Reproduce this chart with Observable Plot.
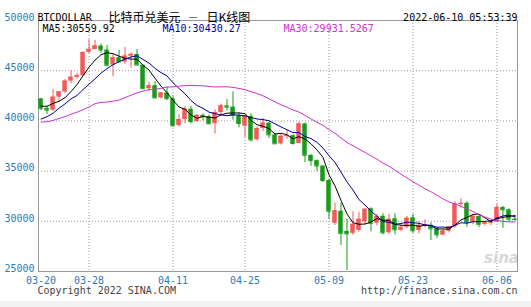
<!DOCTYPE html>
<html><head><meta charset="utf-8">
<script src="https://cdn.jsdelivr.net/npm/d3@7"></script>
<script src="https://cdn.jsdelivr.net/npm/@observablehq/plot@0.6"></script>
<style>body{margin:0;background:#fff}</style>
</head><body><div id="chart"></div>
<script>
const dates = ["03-20","03-21","03-22","03-23","03-24","03-25","03-26","03-27","03-28","03-29","03-30","03-31",
"04-01","04-02","04-03","04-04","04-05","04-06","04-07","04-08","04-09","04-10","04-11","04-12","04-13","04-14","04-15","04-16","04-17","04-18","04-19","04-20","04-21","04-22",
"04-25","04-26","04-27","04-28","04-29","04-30",
"05-01","05-02","05-03","05-04","05-05","05-06","05-07","05-08","05-09","05-10","05-11","05-12","05-13","05-14","05-15","05-16","05-17","05-18","05-19","05-20","05-21","05-22","05-23","05-24","05-25","05-26","05-27","05-28","05-29","05-30","05-31",
"06-01","06-02","06-03","06-04","06-05","06-06","06-07","06-08","06-09"];

const open = [42191,41246,41074,42364,42887,43965,44350,44505,46822,47100,47457,47062,
45554,46286,45859,46445,46625,45544,43208,43505,42282,42781,42201,39534,40124,41160,39939,40552,40418,39721,40828,41501,41372,40526,
39473,40448,38120,39241,39769,38606,
37713,38472,38528,37748,39696,36573,36043,35503,34060,29800,31000,29000,28800,29100,29950,31250,29800,30500,28850,30250,29100,29400,30350,29080,29550,29600,29250,28620,29020,29440,31720,
31790,29900,30470,29710,29835,29910,31370,31150,30215];

const high = [42241,41454,43125,42894,44132,44999,44735,46828,48087,48022,47655,47512,
46616,47028,47313,46791,47106,45544,43861,43903,42787,43376,42425,40618,41430,41451,40618,40709,40571,41116,41673,42126,42894,40778,
40492,40714,39398,40269,39887,38771,
38628,39075,38629,39903,39789,36624,36130,35503,34222,31800,31800,30200,30950,30900,31300,31350,30700,30750,30700,30750,29600,30500,30700,29950,30150,29850,29350,29210,29500,31950,32250,
31960,30700,30630,29930,30120,31690,31490,31250,30610];

const low = [41005,40668,40948,41878,42726,43706,44166,44437,46690,47100,46746,45391,
44403,45783,45634,45236,45545,43194,42900,42183,42183,42021,39373,39388,39713,39696,39867,39992,39621,38696,40619,40961,40064,39315,
38338,37885,37997,38941,38236,37698,
37586,38157,37586,37732,35857,35482,34941,33879,30200,29600,27600,25100,28600,28900,29600,28950,29550,28650,28700,28650,29000,29250,28800,28750,29350,28100,28300,28570,28840,29300,31290,
29400,29650,29380,29500,29575,29890,29310,29940,30020];

const close = [41248,41077,42359,42893,43961,44349,44501,46820,47128,47466,47063,45539,
46282,45869,46454,46623,45556,43207,43504,42288,42782,42208,39522,40127,41167,39936,40553,40424,39717,40826,41503,41374,40527,39740,
40458,38117,39241,39774,38610,37715,
38469,38529,37750,39698,36575,36041,35502,34059,31000,31050,28800,28750,29700,30200,31200,29800,30450,28850,30200,29150,29400,30300,29050,29600,29650,29250,28650,29030,29470,31730,31790,
29900,30500,29700,29830,29905,31370,31150,30210,30185];

// closes of the 29 sessions before the first candle (needed for the moving averages)
const priorCloses = [40122,38431,37075,38286,37296,38332,39214,39105,37709,43193,
44354,43925,42451,39137,39400,38420,37989,38730,41941,39439,38794,38904,37849,39666,39338,41143,40951,41801,42190];

const tickDates = ["03-20","03-28","04-11","04-25","05-09","05-23","06-06"];
const yTicks = [25000,30000,35000,40000,45000,50000];
const maPeriods = [5,10,30];
const maLegend = ["MA5:30559.92","MA10:30430.27","MA30:29931.5267"];
const maColors = ["#000000","#000099","#cc33cc"];
const maLegendX = [4,124,245];

const candles = dates.map((d,i)=>({date:d, open:open[i], high:high[i], low:low[i], close:close[i]}));
const all = priorCloses.concat(close);
const maSeries = maPeriods.map(k => dates.map((d,i)=>{
  const end = i + priorCloses.length;
  return {date:d, ma: d3.mean(all.slice(end-k+1, end+1))};
}));

const MONO = "'DejaVu Sans Mono', monospace";
const CJK = "'Noto Sans CJK SC', sans-serif";
const BLUE = "#2a7ab8";
const UP = "#f25a5a", DOWN = "#1a9a1a";
const col = d => d.close >= d.open ? UP : DOWN;

const plot = Plot.plot({
  width:531, height:307,
  marginLeft:38, marginRight:14, marginTop:20, marginBottom:36,
  style:{fontFamily:MONO, fontSize:"10px", background:"linear-gradient(#fff 301px, #f2f2f2 301px)", overflow:"visible"},
  x:{type:"band", domain:dates, paddingInner:0.25, paddingOuter:0.05},
  y:{domain:[25000,50000]},
  color:{type:"identity"},
  marks:[
    Plot.gridY(yTicks.slice(1,-1), {stroke:"#999", strokeOpacity:1, strokeDasharray:"1,2"}),
    Plot.gridX(tickDates.slice(1), {stroke:"#999", strokeOpacity:1, strokeDasharray:"1,2"}),
    Plot.text(["sina"], {text:d=>d, frameAnchor:"bottom-right", dx:-16, dy:-9, textAnchor:"middle", fontSize:15, fontStyle:"italic", fontWeight:"bold", fontFamily:"'DejaVu Sans', sans-serif", fill:"#d8d8d8"}),
    Plot.frame({stroke:"#999"}),
    Plot.axisY(yTicks, {tickSize:0, tickPadding:4, color:BLUE, dy:-3, tickFormat:d=>String(d), fontSize:10, label:null}),
    Plot.axisX(tickDates, {tickSize:0, tickPadding:5, color:BLUE, fontSize:10, label:null}),
    Plot.ruleX(candles, {x:"date", y1:"low", y2:"high", stroke:col}),
    Plot.barY(candles, {x:"date", y1:"open", y2:"close", fill:col}),
    Plot.tickY(candles, {x:"date", y:"close", stroke:col}),
    ...maSeries.map((s,j)=>Plot.lineY(s, {x:"date", y:"ma", stroke:maColors[j], strokeWidth:1})),
    ...maLegend.map((t,j)=>Plot.text([t], {text:d=>d, frameAnchor:"top-left", dx:maLegendX[j], dy:4.5, textAnchor:"start", fill:maColors[j], fontSize:10})),
    Plot.text(["BTCDOLLAR"], {text:d=>d, frameAnchor:"top-left", dx:-1, dy:-7, textAnchor:"start", fill:"#000", fontSize:10}),
    Plot.text(["比特币兑美元"], {text:d=>d, frameAnchor:"top-left", dx:70, dy:-7, textAnchor:"start", fill:"#000", fontSize:12, fontFamily:CJK}),
    Plot.text(["—"], {text:d=>d, frameAnchor:"top-left", dx:154.5, dy:-7, textAnchor:"middle", fill:"#000", fontSize:9, fontFamily:"'DejaVu Sans', sans-serif"}),
    Plot.text(["日K线图"], {text:d=>d, frameAnchor:"top-left", dx:168, dy:-7, textAnchor:"start", fill:"#000", fontSize:12, fontFamily:CJK}),
    Plot.text(["2022-06-10 05:53:39"], {text:d=>d, frameAnchor:"top-right", dy:-7, textAnchor:"end", fill:"#000", fontSize:10}),
    Plot.text(["Copyright 2022 SINA.COM"], {text:d=>d, frameAnchor:"bottom-left", dx:-1, dy:22, textAnchor:"start", fill:"#444", fontSize:10}),
    Plot.text(["http://finance.sina.com.cn"], {text:d=>d, frameAnchor:"bottom-right", dy:22, textAnchor:"end", fill:"#444", fontSize:10})
  ]
});
document.getElementById("chart").appendChild(plot);
</script>
</body></html>
